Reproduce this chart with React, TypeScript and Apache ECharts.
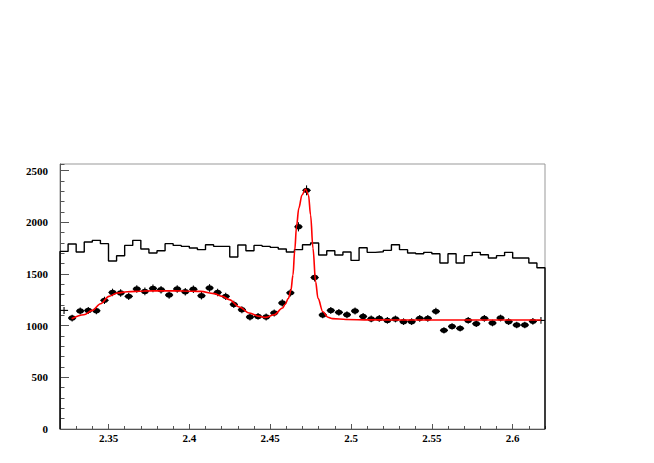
import React, { useEffect, useRef } from "react";
import * as echarts from "echarts";

const X_MIN = 2.32;
const X_MAX = 2.62;
const BIN_W = 0.005;
const Y_MAX = 2565;

const xTickValues = [2.35, 2.4, 2.45, 2.5, 2.55, 2.6];
const yTickValues = [0, 500, 1000, 1500, 2000, 2500];

// Reference histogram (black step line), 60 bins of width 0.005 from 2.32
const histValues = [
  1719, 1791, 1713, 1810, 1826, 1794, 1626, 1677, 1777, 1826,
  1742, 1704, 1726, 1794, 1777, 1768, 1752, 1736, 1784, 1768,
  1768, 1665, 1781, 1726, 1777, 1768, 1758, 1742, 1713, 1736,
  1784, 1800, 1684, 1726, 1684, 1713, 1632, 1755, 1710, 1715,
  1729, 1784, 1736, 1704, 1697, 1710, 1697, 1607, 1697, 1607,
  1678, 1710, 1687, 1655, 1678, 1710, 1655, 1655, 1607, 1561,
];

// Data points (black markers with error bars), same binning
const pointValues = [
  1148, 1074, 1142, 1148, 1145, 1245, 1322, 1316, 1284, 1355,
  1332, 1361, 1348, 1297, 1355, 1329, 1352, 1290, 1365, 1322,
  1284, 1206, 1155, 1084, 1090, 1084, 1123, 1220, 1318, 1957,
  2310, 1466, 1104, 1148, 1129, 1106, 1142, 1090, 1065, 1070,
  1051, 1065, 1039, 1039, 1071, 1071, 1139, 955, 993, 974,
  1051, 1019, 1071, 1026, 1074, 1039, 1006, 1006, 1042, 1051,
];

// Fit curve (red)
const fitX = [
  2.3272, 2.3348, 2.34, 2.3451, 2.3503, 2.3554, 2.3616, 2.3719, 2.3843, 2.3967,
  2.407, 2.4152, 2.4204, 2.4247, 2.4309, 2.4371, 2.4433, 2.4474, 2.4525, 2.4577,
  2.4592, 2.4612, 2.4628, 2.4641, 2.4652, 2.4663, 2.4677, 2.4697, 2.4719, 2.4737,
  2.475, 2.4765, 2.4781, 2.4796, 2.4826, 2.4857, 2.4886, 2.4969, 2.5113, 2.55,
  2.6175,
];
const fitY = [
  1068, 1106, 1148, 1213, 1284, 1316, 1329, 1336, 1337, 1336,
  1332, 1310, 1284, 1252, 1181, 1123, 1090, 1080, 1106, 1171,
  1205, 1262, 1340, 1490, 1730, 1960, 2136, 2265, 2323, 2265,
  2072, 1748, 1426, 1264, 1135, 1082, 1068, 1060, 1056, 1055,
  1055,
];

const AXIS_GREY = "#555555";
const LABEL_FONT = {
  color: "#000",
  fontFamily: "Liberation Serif",
  fontWeight: "bold" as const,
  fontSize: 11,
};

export default function App() {
  const ref = useRef<HTMLDivElement>(null);

  useEffect(() => {
    if (!ref.current) return;
    const chart = echarts.init(ref.current, undefined, { renderer: "svg" });

    const edges = histValues.map((_, i) => X_MIN + i * BIN_W);
    const histLine: number[][] = [[X_MIN, 0]];
    histValues.forEach((v, i) => {
      histLine.push([edges[i], v]);
      histLine.push([edges[i] + BIN_W, v]);
    });
    histLine.push([X_MIN + histValues.length * BIN_W, 0]);

    const pointData = pointValues.map((v, i) => [
      X_MIN + (i + 0.5) * BIN_W,
      v,
      Math.sqrt(v),
      i > 0 && i < pointValues.length - 1 ? 1 : 0,
    ]);

    const fitData = fitX.map((x, i) => [x, fitY[i]]);

    chart.setOption({
      animation: false,
      backgroundColor: "#fff",
      grid: {
        left: 60,
        top: 164,
        width: 485,
        height: 265,
        show: true,
        borderColor: "#999",
        borderWidth: 1,
        backgroundColor: "transparent",
      },
      xAxis: [
        {
          type: "value",
          min: X_MIN,
          max: X_MAX,
          position: "bottom",
          axisLine: { show: true, lineStyle: { color: AXIS_GREY, width: 1 } },
          axisTick: {
            show: true,
            inside: true,
            length: 5,
            customValues: xTickValues,
            lineStyle: { color: AXIS_GREY },
          },
          axisLabel: {
            show: true,
            customValues: xTickValues,
            margin: 3,
            formatter: (v: number) => String(+v.toFixed(2)),
            ...LABEL_FONT,
          },
          splitLine: { show: false },
        },
        {
          type: "value",
          min: X_MIN,
          max: X_MAX,
          interval: 0.01,
          position: "bottom",
          axisLine: { show: false },
          axisTick: { show: true, inside: true, length: 3, lineStyle: { color: AXIS_GREY } },
          axisLabel: { show: false },
          splitLine: { show: false },
        },
      ],
      yAxis: [
        {
          type: "value",
          min: 0,
          max: Y_MAX,
          position: "left",
          axisLine: { show: true, lineStyle: { color: AXIS_GREY, width: 1 } },
          axisTick: {
            show: true,
            inside: true,
            length: 9,
            customValues: yTickValues,
            lineStyle: { color: AXIS_GREY },
          },
          axisLabel: {
            show: true,
            customValues: yTickValues,
            margin: 12,
            formatter: (v: number) => String(Math.round(v)),
            ...LABEL_FONT,
          },
          splitLine: { show: false },
        },
        {
          type: "value",
          min: 0,
          max: Y_MAX,
          interval: 100,
          position: "left",
          axisLine: { show: false },
          axisTick: { show: true, inside: true, length: 4.5, lineStyle: { color: AXIS_GREY } },
          axisLabel: { show: false },
          splitLine: { show: false },
        },
      ],
      series: [
        {
          type: "line",
          data: histLine,
          xAxisIndex: 0,
          yAxisIndex: 0,
          symbol: "none",
          lineStyle: { color: "#000", width: 1.4 },
          z: 2,
          silent: true,
        },
        {
          type: "custom",
          data: pointData,
          xAxisIndex: 0,
          yAxisIndex: 0,
          encode: { x: 0, y: 1 },
          z: 3,
          silent: true,
          renderItem: (_params: any, api: any) => {
            const x = api.value(0);
            const y = api.value(1);
            const e = api.value(2);
            const m = api.value(3);
            const c = api.coord([x, y]);
            const l = api.coord([x - BIN_W / 2, y]);
            const r = api.coord([x + BIN_W / 2, y]);
            const t = api.coord([x, y + e]);
            const b = api.coord([x, y - e]);
            const style = { stroke: "#000", lineWidth: 1.1 };
            const children: any[] = [
              { type: "line", shape: { x1: l[0], y1: l[1], x2: r[0], y2: r[1] }, style },
              { type: "line", shape: { x1: t[0], y1: t[1], x2: b[0], y2: b[1] }, style },
            ];
            if (m) {
              children.push({
                type: "ellipse",
                shape: { cx: c[0], cy: c[1], rx: 3.8, ry: 2.7 },
                style: { fill: "#000" },
              });
            }
            return { type: "group", children };
          },
        },
        {
          type: "line",
          data: fitData,
          xAxisIndex: 0,
          yAxisIndex: 0,
          symbol: "none",
          smooth: 0.35,
          smoothMonotone: "x",
          lineStyle: { color: "#ff0000", width: 1.6 },
          z: 4,
          silent: true,
        },
      ],
    });

    return () => chart.dispose();
  }, []);

  return (
    <div
      ref={ref}
      style={{ position: "fixed", left: 0, top: 0, width: 654, height: 463, background: "#fff" }}
    />
  );
}
